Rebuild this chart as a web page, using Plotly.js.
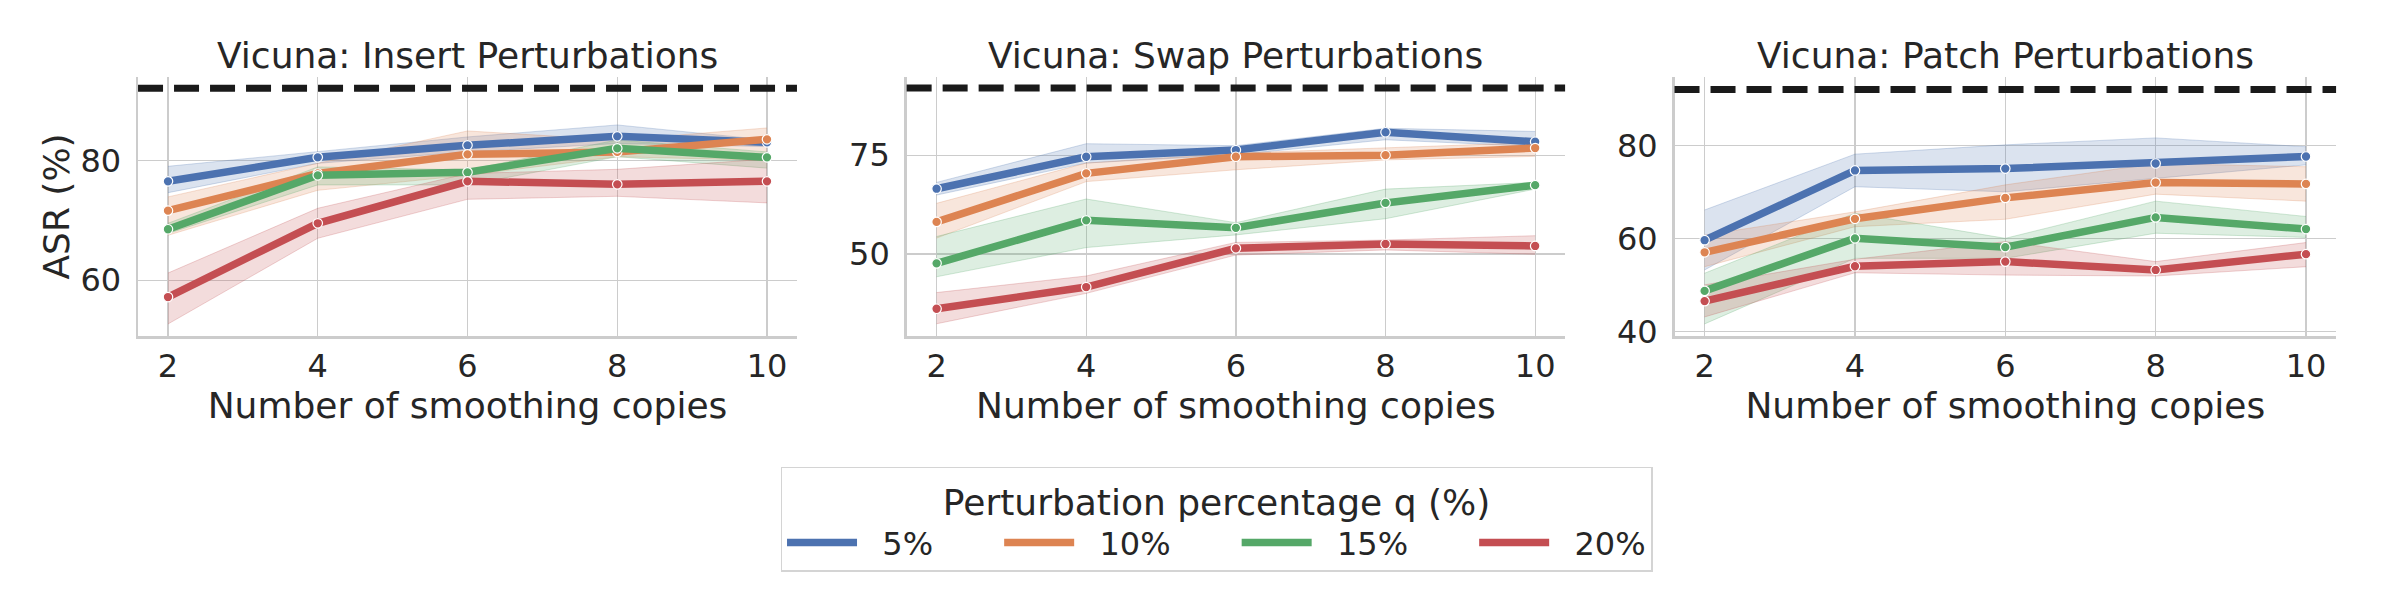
<!DOCTYPE html>
<html>
<head>
<meta charset="utf-8">
<script src="https://cdn.plot.ly/plotly-3.0.1.min.js"></script>
<style>
  html, body { margin: 0; padding: 0; background: #ffffff; }
  #chart { width: 2384px; height: 600px; }
</style>
</head>
<body>
<div id="chart"></div>
<script>
// ---------------- data ----------------
const copies = [2, 4, 6, 8, 10];
const qLabels = ['5%', '10%', '15%', '20%'];
const undefendedASR = 92;
const panelTitles = ['Vicuna: Insert Perturbations', 'Vicuna: Swap Perturbations', 'Vicuna: Patch Perturbations'];

// Insert perturbations (rows: q = 5, 10, 15, 20 %)
const insertMean = [
  [76.5, 80.5, 82.5, 84.0, 83.0],
  [71.6, 77.8, 81.0, 81.4, 83.5],
  [68.5, 77.5, 78.0, 82.0, 80.5],
  [57.2, 69.5, 76.5, 76.0, 76.5]
];
const insertLower = [
  [74.6, 79.5, 81.4, 82.8, 82.3],
  [67.5, 75.0, 77.5, 80.6, 80.0],
  [67.8, 75.9, 75.9, 80.6, 78.7],
  [52.7, 67.0, 73.5, 74.0, 72.9]
];
const insertUpper = [
  [79.0, 81.4, 83.9, 85.9, 83.4],
  [73.9, 79.5, 84.9, 83.4, 85.4],
  [69.5, 78.9, 78.4, 83.4, 81.4],
  [61.2, 72.0, 77.8, 78.5, 80.2]
];

// Swap perturbations
const swapMean = [
  [66.5, 74.6, 76.3, 80.8, 78.4],
  [58.1, 70.4, 74.6, 75.0, 76.8],
  [47.6, 58.5, 56.6, 62.9, 67.4],
  [36.1, 41.6, 51.4, 52.5, 52.0]
];
const swapLower = [
  [64.9, 73.0, 75.1, 78.9, 77.2],
  [54.0, 68.3, 71.3, 73.8, 74.7],
  [44.2, 51.6, 54.8, 58.9, 66.4],
  [32.3, 40.0, 49.7, 51.0, 49.9]
];
const swapUpper = [
  [68.1, 77.9, 77.4, 81.8, 81.0],
  [62.8, 73.0, 75.5, 76.8, 78.2],
  [54.4, 63.9, 57.9, 66.4, 68.1],
  [40.2, 44.4, 52.9, 53.5, 54.6]
];

// Patch perturbations
const patchMean = [
  [59.6, 74.6, 75.0, 76.1, 77.6],
  [57.0, 64.2, 68.7, 72.0, 71.7],
  [48.7, 60.0, 58.1, 64.5, 62.0],
  [46.5, 54.0, 55.0, 53.2, 56.6]
];
const patchLower = [
  [53.2, 71.1, 70.0, 72.9, 75.8],
  [53.9, 62.5, 64.1, 69.5, 68.0],
  [41.6, 55.7, 55.7, 61.1, 60.2],
  [43.1, 52.6, 52.1, 51.9, 53.9]
];
const patchUpper = [
  [66.1, 78.1, 80.1, 81.6, 79.7],
  [60.7, 65.7, 71.5, 76.1, 75.4],
  [52.5, 65.4, 60.0, 68.0, 64.7],
  [50.0, 55.5, 59.3, 55.0, 59.1]
];

// ---------------- style ----------------
const colors = ['#4c72b0', '#dd8452', '#55a868', '#c44e52'];
const bandFill = ['rgba(76,114,176,0.2)', 'rgba(221,132,82,0.2)', 'rgba(85,168,104,0.2)', 'rgba(196,78,82,0.2)'];
const bandEdge = ['rgba(76,114,176,0.25)', 'rgba(221,132,82,0.25)', 'rgba(85,168,104,0.25)', 'rgba(196,78,82,0.25)'];
const FONT = 'DejaVu Sans, sans-serif';
const TXT = '#262626';
const GRID = '#cccccc';
const NB = '\u00a0';

const panels = [
  { mean: insertMean, lo: insertLower, hi: insertUpper, yrange: [50.7, 93.9], dtick: 20, dom: [0.0579, 0.3343] },
  { mean: swapMean,   lo: swapLower,   hi: swapUpper,   yrange: [29.2, 94.8], dtick: 25, dom: [0.3803, 0.6565] },
  { mean: patchMean,  lo: patchLower,  hi: patchUpper,  yrange: [39.0, 94.7], dtick: 20, dom: [0.7024, 0.9799] }
];

const traces = [];
const shapes = [];
const annotations = [];
const layout = {
  width: 2384, height: 600,
  margin: { l: 0, r: 0, t: 0, b: 0 },
  paper_bgcolor: '#ffffff', plot_bgcolor: '#ffffff',
  font: { family: FONT, color: TXT, size: 32 },
  showlegend: true,
  legend: {
    orientation: 'h',
    x: 0.3274, xanchor: 'left',
    y: 0.2217, yanchor: 'top',
    bordercolor: '#d4d4d4', borderwidth: 1.5, bgcolor: '#ffffff',
    font: { family: FONT, size: 32, color: TXT },
    title: { text: 'Perturbation percentage q (%)', side: 'top center', font: { family: FONT, size: 36, color: TXT } },
    itemwidth: 70,
    traceorder: 'normal'
  },
  shapes: shapes,
  annotations: annotations
};

function legendName(k) {
  // spacing around legend labels to mimic the reference legend layout
  const trail = k < qLabels.length - 1 ? NB.repeat(6) : '';
  return NB + NB + qLabels[k] + trail;
}

panels.forEach((p, pi) => {
  const sfx = pi === 0 ? '' : String(pi + 1);
  const xa = 'x' + sfx, ya = 'y' + sfx;
  // confidence bands first
  for (let k = 0; k < qLabels.length; k++) {
    traces.push({
      x: copies, y: p.lo[k], xaxis: xa, yaxis: ya, mode: 'lines',
      line: { color: bandEdge[k], width: 1 }, showlegend: false, hoverinfo: 'skip'
    });
    traces.push({
      x: copies, y: p.hi[k], xaxis: xa, yaxis: ya, mode: 'lines', fill: 'tonexty',
      fillcolor: bandFill[k], line: { color: bandEdge[k], width: 1 }, showlegend: false, hoverinfo: 'skip'
    });
  }
  for (let k = 0; k < qLabels.length; k++) {
    traces.push({
      x: copies, y: p.mean[k], xaxis: xa, yaxis: ya, mode: 'lines',
      name: legendName(k), legendgroup: qLabels[k], showlegend: pi === 0,
      line: { color: colors[k], width: 7.5 }
    });
    traces.push({
      x: copies, y: p.mean[k], xaxis: xa, yaxis: ya, mode: 'markers',
      legendgroup: qLabels[k], showlegend: false,
      marker: { color: colors[k], size: 9.5, line: { color: '#ffffff', width: 1.2 } }
    });
  }
  layout['xaxis' + sfx] = {
    domain: p.dom, anchor: ya, range: [1.6, 10.4],
    tickvals: copies, ticktext: copies.map(String),
    showgrid: true, gridcolor: GRID, gridwidth: 1.3,
    showline: true, linecolor: GRID, linewidth: 2.5, mirror: false,
    zeroline: false, ticks: '', ticklabelstandoff: 0,
    tickfont: { family: FONT, size: 32, color: TXT },
    title: { text: 'Number of smoothing copies', standoff: 5, font: { family: FONT, size: 36, color: TXT } }
  };
  layout['yaxis' + sfx] = {
    domain: [0.44, 0.8717], anchor: xa, range: p.yrange, dtick: p.dtick, tick0: 0,
    showgrid: true, gridcolor: GRID, gridwidth: 1.3,
    showline: true, linecolor: GRID, linewidth: 2.5, mirror: false,
    zeroline: false, ticks: '', ticklabelstandoff: 8,
    tickfont: { family: FONT, size: 32, color: TXT },
    title: pi === 0 ? { text: 'ASR (%)', standoff: 0, font: { family: FONT, size: 36, color: TXT } } : { text: '' }
  };
  shapes.push({
    type: 'line', xref: xa + ' domain', yref: ya, x0: 0, x1: 1, y0: undefendedASR, y1: undefendedASR,
    line: { color: '#1a1a1a', width: 7, dash: '25px,11px' }, layer: 'above'
  });
  annotations.push({
    text: panelTitles[pi], xref: xa + ' domain', yref: 'paper', x: 0.5, y: 1 - 55 / 600,
    xanchor: 'center', yanchor: 'middle', showarrow: false,
    font: { family: FONT, size: 36, color: TXT }
  });
});

Plotly.newPlot('chart', traces, layout, { displayModeBar: false, staticPlot: true });
</script>
</body>
</html>
